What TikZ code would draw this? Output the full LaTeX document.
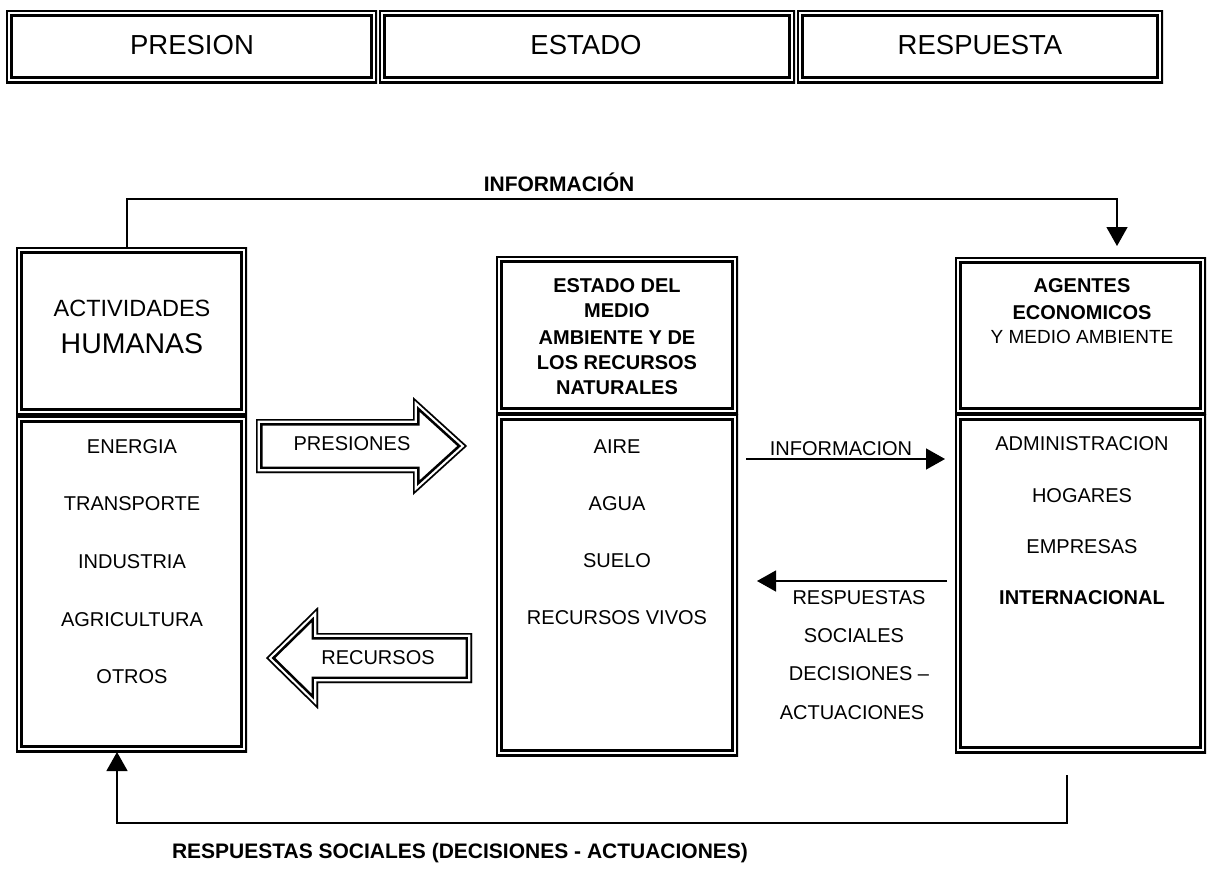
\documentclass[tikz,border=0pt]{standalone}
\usepackage{fontspec}
\setmainfont{Liberation Sans}
\usetikzlibrary{arrows.meta}
\newcommand\hollowshape[1]{%
  \fill[white] #1;
  \begin{scope}
    \clip #1;
    \draw[line width=13pt, line join=miter] #1;
    \draw[white, line width=7.6pt, line join=miter] #1;
    \draw[line width=3.2pt, line join=miter] #1;
  \end{scope}}
\begin{document}
\begin{tikzpicture}[x=1pt,y=-1pt,
  dbox/.style={rectangle, inner sep=0pt, outer sep=0pt, fill=white, anchor=north west,
    path picture={
      \draw[line width=3.2pt] (path picture bounding box.south west) rectangle (path picture bounding box.north east);
      \draw[line width=2.7pt] ([shift={(5.2pt,5.2pt)}]path picture bounding box.south west) rectangle ([shift={(-5.2pt,-5.2pt)}]path picture bounding box.north east);}},
  txt/.style={inner sep=0pt, text height=14.3pt, text depth=0pt, font=\fontsize{20}{24}\selectfont},
  btxt/.style={txt, font=\fontsize{20}{24}\selectfont\bfseries},
  bigbtxt/.style={inner sep=0pt, text height=15pt, text depth=0pt, font=\fontsize{21}{25}\selectfont\bfseries},
  htxt/.style={inner sep=0pt, text height=19.6pt, text depth=0pt, font=\fontsize{27.5}{32}\selectfont},
  conn/.style={line width=1.4pt, -{Triangle[length=19pt,width=21pt]}}]
\useasboundingbox (0,0) rectangle (1209,879);

% header
\node[dbox, minimum width=371pt, minimum height=73pt] (hP) at (6,10) {};
\node[dbox, minimum width=416pt, minimum height=73pt] (hE) at (379,10) {};
\node[dbox, minimum width=366pt, minimum height=73pt] (hR) at (797,10) {};
\node[htxt] (hPt) at (192,45) {PRESION};
\node[htxt] (hEt) at (586,45) {ESTADO};
\node[htxt] (hRt) at (980,45) {RESPUESTA};

% left box
\node[dbox, minimum width=231pt, minimum height=168pt] (actTop) at (16,247) {};
\node[dbox, minimum width=231pt, minimum height=336pt] (actBot) at (16,416) {};
\node[inner sep=0pt, text height=16.6pt, text depth=0pt, font=\fontsize{23.5}{28}\selectfont] (act1) at (132,308) {ACTIVIDADES};
\node[inner sep=0pt, text height=20.4pt, text depth=0pt, font=\fontsize{28.5}{34}\selectfont] (act2) at (132,343) {HUMANAS};
\node[txt] (l1) at (132,446) {ENERGIA};
\node[txt] (l2) at (132,503) {TRANSPORTE};
\node[txt] (l3) at (132,561) {INDUSTRIA};
\node[txt] (l4) at (132,619) {AGRICULTURA};
\node[txt] (l5) at (132,676) {OTROS};

% middle box
\node[dbox, minimum width=242pt, minimum height=158pt] (estTop) at (496,256) {};
\node[dbox, minimum width=242pt, minimum height=342pt] (estBot) at (496,414) {};
\node[btxt] (m1) at (617,285) {ESTADO DEL};
\node[btxt] (m2) at (617,310) {MEDIO};
\node[btxt] (m3) at (617,337) {AMBIENTE Y DE};
\node[btxt] (m4) at (617,362) {LOS RECURSOS};
\node[btxt] (m5) at (617,387) {NATURALES};
\node[txt] (s1) at (617,446) {AIRE};
\node[txt] (s2) at (617,503) {AGUA};
\node[txt] (s3) at (617,560) {SUELO};
\node[txt] (s4) at (617,617) {RECURSOS VIVOS};

% right box
\node[dbox, minimum width=251pt, minimum height=157pt] (agTop) at (955,257) {};
\node[dbox, minimum width=251pt, minimum height=339pt] (agBot) at (955,414) {};
\node[btxt] (r1) at (1082,285) {AGENTES};
\node[btxt] (r2) at (1082,312) {ECONOMICOS};
\node[inner sep=0pt, text height=13.6pt, text depth=0pt, font=\fontsize{19}{23}\selectfont] (r3) at (1082,337) {Y MEDIO AMBIENTE};
\node[txt] (a1) at (1082,443) {ADMINISTRACION};
\node[txt] (a2) at (1082,495) {HOGARES};
\node[txt] (a3) at (1082,546) {EMPRESAS};
\node[btxt] (a4) at (1082,597) {INTERNACIONAL};

% hollow arrows
\hollowshape{(256,419) -- (413,419) -- (413,397) -- (467,446) -- (413,495) -- (413,473) -- (256,473) -- cycle}
\node[txt] (presLbl) at (352,443) {PRESIONES};
\hollowshape{(472,633) -- (318,633) -- (318,607) -- (266,658) -- (318,709) -- (318,683) -- (472,683) -- cycle}
\node[txt] (recLbl) at (378,657) {RECURSOS};

% information loop (top)
\coordinate (iStart) at (127,247);
\coordinate (iA) at (127,199);
\coordinate (iB) at (1117,199);
\coordinate (iEnd) at (1117,246);
\draw[conn] (iStart) -- (iA) -- (iB) -- (iEnd);
\node[bigbtxt] (infoLbl) at (559,184) {INFORMACIÓN};

% middle informacion arrow
\coordinate (mS) at (746,459);
\coordinate (mE) at (945,459);
\draw[conn] (mS) -- (mE);
\node[txt] (mLbl) at (841,448) {INFORMACION};

% respuestas arrow
\coordinate (rS) at (947,581);
\coordinate (rE) at (757,581);
\draw[conn] (rS) -- (rE);
\node[txt] (rl1) at (859,597) {RESPUESTAS};
\node[txt] (rl2) at (854,635) {SOCIALES};
\node[txt] (rl3) at (859,673) {DECISIONES –};
\node[txt] (rl4) at (852,712) {ACTUACIONES};

% bottom loop
\coordinate (bStart) at (1067,775);
\coordinate (bA) at (1067,823);
\coordinate (bB) at (117,823);
\coordinate (bEnd) at (117,752);
\draw[conn] (bStart) -- (bA) -- (bB) -- (bEnd);
\node[bigbtxt] (bLbl) at (460,851) {RESPUESTAS SOCIALES (DECISIONES - ACTUACIONES)};
\end{tikzpicture}
\end{document}
